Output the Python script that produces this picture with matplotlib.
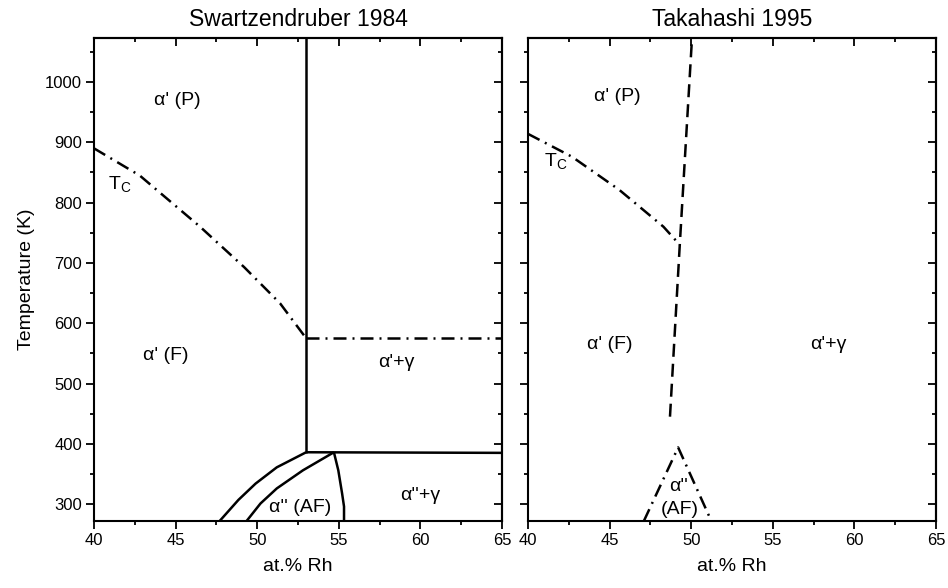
import matplotlib
matplotlib.use("Agg")
import matplotlib.pyplot as plt
from matplotlib.ticker import MultipleLocator

plt.rcParams['font.family'] = ['Liberation Sans', 'DejaVu Sans']

# ---- Data (at.% Rh, Temperature K) ----
# Swartzendruber 1984
sw_tc_x = [40.0, 42.8, 46.5, 49.2, 51.4, 53.0]
sw_tc_t = [890, 845, 760, 693, 633, 575]
sw_tc2_x = [53.0, 65.0]
sw_tc2_t = [575, 575]
sw_vert_x = [53.0, 53.0]
sw_vert_t = [385, 1073]
sw_horiz_x = [53.0, 65.0]
sw_horiz_t = [386, 385]
sw_b1_x = [53.0, 51.2, 49.9, 48.85, 47.7]
sw_b1_t = [386, 361, 334, 307, 272]
sw_b2_x = [54.7, 52.8, 51.2, 50.2, 49.35]
sw_b2_t = [386, 356, 326, 301, 272]
sw_b3_x = [54.7, 54.97, 55.2, 55.32, 55.32]
sw_b3_t = [386, 356, 318, 296, 272]

# Takahashi 1995
tk_tc_x = [40.0, 42.7, 45.6, 48.3, 49.3]
tk_tc_t = [914, 876, 821, 760, 730]
tk_dash_x = [48.7, 49.3, 50.05]
tk_dash_t = [445, 730, 1073]
tk_af_x = [47.1, 49.2, 51.1]
tk_af_t = [272, 394, 280]

xlim = (40, 65)
ylim = (272, 1073)
xticks = [40, 45, 50, 55, 60, 65]
yticks = [300, 400, 500, 600, 700, 800, 900, 1000]

fig = plt.figure(figsize=(9.48, 5.88), dpi=100)
axL = fig.add_axes([94/948, 1-521/588, 408/948, 483/588])
axR = fig.add_axes([528/948, 1-521/588, 408/948, 483/588])

lw = 1.8
dashdot = (5.2, 2.4, 0.8, 2.4)
dashed = (5.2, 2.8)

def style(ax, ylabels=True):
    ax.set_xlim(*xlim)
    ax.set_ylim(*ylim)
    ax.set_xticks(xticks)
    ax.set_yticks(yticks)
    ax.xaxis.set_minor_locator(MultipleLocator(2.5))
    ax.yaxis.set_minor_locator(MultipleLocator(50))
    ax.tick_params(which='major', direction='out', length=5.5, width=1.3, labelsize=12, pad=3)
    ax.tick_params(which='minor', direction='out', length=3, width=1.3)
    if not ylabels:
        ax.tick_params(axis='y', labelleft=False)
    for s in ax.spines.values():
        s.set_linewidth(1.5)
    top = ax.secondary_xaxis('top')
    top.set_xticks(xticks)
    top.xaxis.set_minor_locator(MultipleLocator(2.5))
    top.tick_params(which='major', direction='in', length=5.5, width=1.3, labeltop=False)
    top.tick_params(which='minor', direction='in', length=3, width=1.3)
    top.spines['top'].set_linewidth(1.5)
    right = ax.secondary_yaxis('right')
    right.set_yticks(yticks)
    right.yaxis.set_minor_locator(MultipleLocator(50))
    right.tick_params(which='major', direction='in', length=5.5, width=1.3, labelright=False)
    right.tick_params(which='minor', direction='in', length=3, width=1.3)
    right.spines['right'].set_linewidth(1.5)
    ax.set_xlabel('at.% Rh', fontsize=14, labelpad=7)

style(axL)
style(axR, ylabels=False)
axL.set_ylabel('Temperature (K)', fontsize=14, labelpad=7)
axL.set_title('Swartzendruber 1984', fontsize=16.5, pad=9)
axR.set_title('Takahashi 1995', fontsize=16.5, pad=9)

# Left panel lines
kw = dict(color='black', lw=lw, solid_capstyle='butt', clip_on=True)
axL.plot(sw_tc_x, sw_tc_t, dashes=dashdot, **kw)
axL.plot(sw_tc2_x, sw_tc2_t, dashes=dashdot, **kw)
axL.plot(sw_vert_x, sw_vert_t, **kw)
axL.plot(sw_horiz_x, sw_horiz_t, **kw)
axL.plot(sw_b1_x, sw_b1_t, **kw)
axL.plot(sw_b2_x, sw_b2_t, **kw)
axL.plot(sw_b3_x, sw_b3_t, **kw)

# Right panel lines
axR.plot(tk_tc_x, tk_tc_t, dashes=dashdot, **kw)
axR.plot(tk_dash_x, tk_dash_t, dashes=dashed, **kw)
axR.plot(tk_af_x, tk_af_t, dashes=dashdot, **kw)

fs = 14
# Left labels
axL.text(45.1, 970, "α' (P)", fontsize=fs, ha='center', va='center')
axL.text(41.6, 829, "T$_\\mathregular{C}$", fontsize=fs, ha='center', va='center')
axL.text(44.4, 547, "α' (F)", fontsize=fs, ha='center', va='center')
axL.text(58.5, 535, "α'+γ", fontsize=fs, ha='center', va='center')
axL.text(52.6, 295, "α'' (AF)", fontsize=fs, ha='center', va='center')
axL.text(60.0, 315, "α''+γ", fontsize=fs, ha='center', va='center')

# Right labels
axR.text(45.45, 976, "α' (P)", fontsize=fs, ha='center', va='center')
axR.text(41.7, 868, "T$_\\mathregular{C}$", fontsize=fs, ha='center', va='center')
axR.text(45.0, 564, "α' (F)", fontsize=fs, ha='center', va='center')
axR.text(58.4, 564, "α'+γ", fontsize=fs, ha='center', va='center')
axR.text(49.2, 330, "α''", fontsize=fs, ha='center', va='center')
axR.text(49.3, 291, "(AF)", fontsize=fs, ha='center', va='center')

fig.savefig('out.png', dpi=100)
